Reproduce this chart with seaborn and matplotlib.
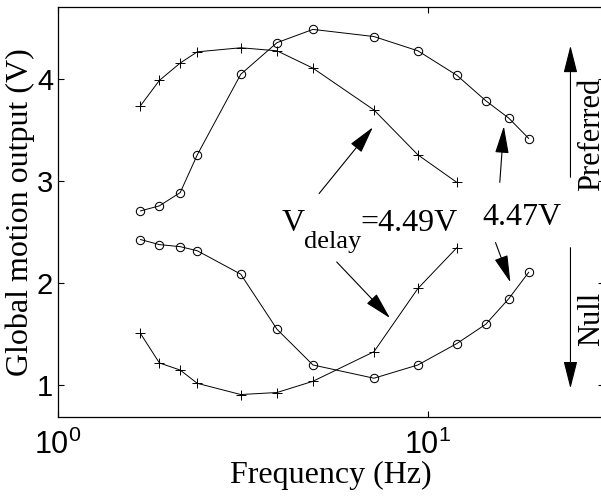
import matplotlib
matplotlib.use("Agg")
import matplotlib.pyplot as plt
import seaborn as sns
from matplotlib.ticker import FixedLocator, NullLocator

# frequencies (Hz) and outputs (V)
freq = [1.67, 1.88, 2.14, 2.38, 3.12, 3.91, 4.89, 7.15, 9.40, 11.98, 14.35, 16.55, 18.75]
pref_circle = [2.71, 2.76, 2.89, 3.26, 4.05, 4.36, 4.49, 4.42, 4.28, 4.04, 3.79, 3.62, 3.42]
null_circle = [2.43, 2.38, 2.36, 2.32, 2.09, 1.55, 1.20, 1.07, 1.20, 1.41, 1.60, 1.85, 2.11]
pref_plus = [3.74, 3.99, 4.16, 4.27, 4.31, 4.28, 4.11, 3.70, 3.26, 2.99]
null_plus = [1.51, 1.22, 1.15, 1.02, 0.91, 0.93, 1.04, 1.33, 1.95, 2.35]
y_ticks = [1, 2, 3, 4]
x_ticks = [1, 10]

sns.set_theme(style="ticks", rc={"axes.edgecolor": "black", "text.color": "black",
                                 "xtick.color": "black", "ytick.color": "black",
                                 "axes.labelcolor": "black"})
plt.rcParams["font.family"] = ["Liberation Sans", "DejaVu Sans"]

serif = "Liberation Serif"

fig = plt.figure(figsize=(6.01, 4.97), dpi=100)
ax = fig.add_axes([0.0965, 0.161, 0.909, 0.825])

for vals, mk in [(pref_circle, "o"), (null_circle, "o"), (pref_plus, "+"), (null_plus, "+")]:
    kw = dict(mfc="none", mec="black", ms=6) if mk == "o" else dict(mec="black", ms=7, mew=0.7)
    sns.lineplot(x=freq[:len(vals)], y=vals, ax=ax, color="black", lw=0.7,
                 marker=mk, **kw)

ax.set_xscale("log")
ax.set_xlim(1, 30)
ax.set_ylim(0.69, 4.71)
ax.xaxis.set_major_locator(FixedLocator(x_ticks))
ax.xaxis.set_minor_locator(NullLocator())
ax.yaxis.set_major_locator(FixedLocator(y_ticks))
ax.tick_params(direction="in", length=4, width=0.8, top=True, right=True, labelsize=21)
ax.tick_params(axis="x", pad=9, labelsize=22)
for s in ax.spines.values():
    s.set_linewidth(0.9)

ax.set_xlabel("Frequency (Hz)", family=serif, fontsize=23, labelpad=0)
ax.set_ylabel("Global motion output (V)", family=serif, fontsize=23, labelpad=1)

arrow = dict(arrowstyle="-|>,head_length=17,head_width=4.3", mutation_scale=1,
             color="black", lw=0.8, shrinkA=0, shrinkB=0)
for tail, tip in [((5.08, 2.88), (7.10, 3.53)), ((5.67, 2.21), (7.90, 1.66)),
                  ((15.65, 2.99), (16.05, 3.54)), ((15.24, 2.40), (16.72, 2.01)),
                  ((24.3, 3.04), (24.3, 4.33)), ((24.3, 2.35), (24.3, 0.97))]:
    ax.annotate("", xy=tip, xytext=tail, arrowprops=arrow)

ax.text(4.03, 2.51, "V", family=serif, fontsize=23, ha="left", va="baseline")
ax.text(4.62, 2.343, "delay", family=serif, fontsize=19, ha="left", va="baseline")
ax.text(6.55, 2.51, "=4.49V", family=serif, fontsize=23, ha="left", va="baseline")
ax.text(14.08, 2.57, "4.47V", family=serif, fontsize=23, ha="left", va="baseline")
ax.text(29.0, 3.456, "Preferred", family=serif, fontsize=22, rotation=90,
        rotation_mode="anchor", ha="center", va="baseline")
ax.text(29.0, 1.647, "Null", family=serif, fontsize=22, rotation=90,
        rotation_mode="anchor", ha="center", va="baseline")

fig.savefig("out.png", dpi=100)
